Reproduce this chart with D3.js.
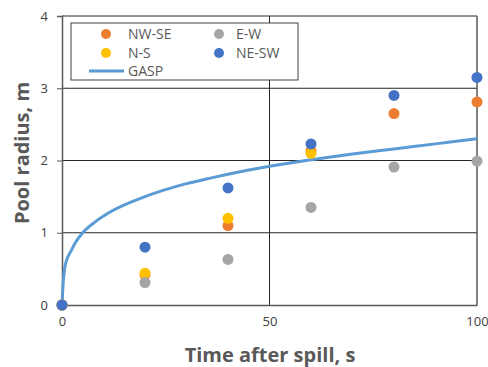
<html>
<head>
  <script src="https://d3js.org/d3.v7.min.js"></script>
  <style>
    body { margin: 0; background: #fff; font-family: "Open Sans", "Noto Sans", sans-serif; }
    .tick text { fill: #404040; font-size: 13px; }
  </style>
</head>
<body>
<script>
  // measured points, time (s) vs pool radius (m)
  var times = [0, 20, 40, 60, 80, 100];
  var nwse = [0, 0.42, 1.10, 2.13, 2.65, 2.81];
  var ns   = [0, 0.44, 1.20, 2.10];
  var ew   = [0, 0.31, 0.63, 1.35, 1.91, 1.99];
  var nesw = [0, 0.80, 1.62, 2.23, 2.90, 3.15];

  // GASP model curve
  var gaspT = [0, 0.3, 0.7, 1, 2.3, 3, 5, 8, 12, 20, 30, 36, 40, 50, 60, 70, 80, 90, 100];
  var gaspR = [0, 0.32, 0.53, 0.6, 0.76, 0.84, 1.0, 1.15, 1.30, 1.50, 1.68, 1.76, 1.81, 1.92, 2.01, 2.09, 2.16, 2.23, 2.30];

  var xTicks = [0, 50, 100];
  var yTicks = [0, 1, 2, 3, 4];

  var series = [
    { name: "NW-SE", vals: nwse, color: "#ED7D31" },
    { name: "N-S",   vals: ns,   color: "#FFC000" },
    { name: "E-W",   vals: ew,   color: "#A5A5A5" },
    { name: "NE-SW", vals: nesw, color: "#4472C4" }
  ];

  var width = 488, height = 367;
  var plotL = 62, plotR = 477, plotT = 16, plotB = 305;

  var svg = d3.select("body").append("svg")
    .attr("width", width)
    .attr("height", height);

  var x = d3.scaleLinear().domain([0, 100]).range([plotL, plotR]);
  var y = d3.scaleLinear().domain([0, 4]).range([plotB, plotT]);

  // gridlines
  svg.append("g")
    .selectAll("line")
    .data(yTicks.slice(1))
    .enter().append("line")
    .attr("x1", plotL).attr("x2", plotR)
    .attr("y1", function(d) { return y(d); })
    .attr("y2", function(d) { return y(d); })
    .attr("stroke", "#262626").attr("stroke-width", 1);

  svg.append("g")
    .selectAll("line")
    .data(xTicks.slice(1))
    .enter().append("line")
    .attr("x1", function(d) { return x(d); })
    .attr("x2", function(d) { return x(d); })
    .attr("y1", plotT).attr("y2", plotB)
    .attr("stroke", function(d) { return d == 100 ? "#595959" : "#262626"; })
    .attr("stroke-width", function(d) { return d == 100 ? 1.5 : 1; });

  // axes
  var yAxis = svg.append("g")
    .attr("transform", "translate(" + plotL + ",0)")
    .call(d3.axisLeft(y).tickValues(yTicks).tickFormat(d3.format("d")).tickSize(5).tickPadding(9));
  var xAxis = svg.append("g")
    .attr("transform", "translate(0," + plotB + ")")
    .call(d3.axisBottom(x).tickValues(xTicks).tickFormat(d3.format("d")).tickSize(0).tickPadding(12));
  [yAxis, xAxis].forEach(function(a) {
    a.select(".domain").attr("stroke", "#595959").attr("stroke-width", 1.5);
    a.selectAll(".tick line").attr("stroke", "#595959");
    a.selectAll(".tick text").style("font-family", "'Open Sans', sans-serif");
  });

  // axis titles
  svg.append("text")
    .attr("x", 270).attr("y", 362)
    .attr("text-anchor", "middle")
    .attr("fill", "#595959")
    .attr("font-size", "20px").attr("font-weight", "bold")
    .text("Time after spill, s");

  svg.append("text")
    .attr("transform", "translate(29,153) rotate(-90)")
    .attr("text-anchor", "middle")
    .attr("fill", "#595959")
    .attr("font-size", "20px").attr("font-weight", "bold")
    .text("Pool radius, m");

  // GASP line
  var line = d3.line()
    .x(function(d, i) { return x(gaspT[i]); })
    .y(function(d) { return y(d); })
    .curve(d3.curveMonotoneX);

  svg.append("path")
    .datum(gaspR)
    .attr("d", line)
    .attr("fill", "none")
    .attr("stroke", "#5B9BD5")
    .attr("stroke-width", 3);

  // points
  series.forEach(function(s) {
    svg.append("g").selectAll("circle")
      .data(s.vals)
      .enter().append("circle")
      .attr("cx", function(d, i) { return x(times[i]); })
      .attr("cy", function(d) { return y(d); })
      .attr("r", 5.5)
      .attr("fill", s.color);
  });

  // legend
  var lg = svg.append("g");
  lg.append("rect")
    .attr("x", 71).attr("y", 23).attr("width", 227).attr("height", 57)
    .attr("fill", "#fff").attr("stroke", "#404040").attr("stroke-width", 1);

  var legPos = [[106, 34], [106, 53], [219, 34], [219, 53]];
  series.forEach(function(s, i) {
    var p = legPos[i];
    lg.append("circle").attr("cx", p[0]).attr("cy", p[1]).attr("r", 5).attr("fill", s.color);
    lg.append("text").attr("x", p[0] + (i < 2 ? 22 : 17)).attr("y", p[1] + 5)
      .attr("font-size", "14px").attr("fill", "#595959").text(s.name);
  });
  lg.append("line").attr("x1", 89).attr("x2", 124).attr("y1", 71).attr("y2", 71)
    .attr("stroke", "#5B9BD5").attr("stroke-width", 3);
  lg.append("text").attr("x", 128).attr("y", 76)
    .attr("font-size", "14px").attr("fill", "#595959").text("GASP");
</script>
</body>
</html>
